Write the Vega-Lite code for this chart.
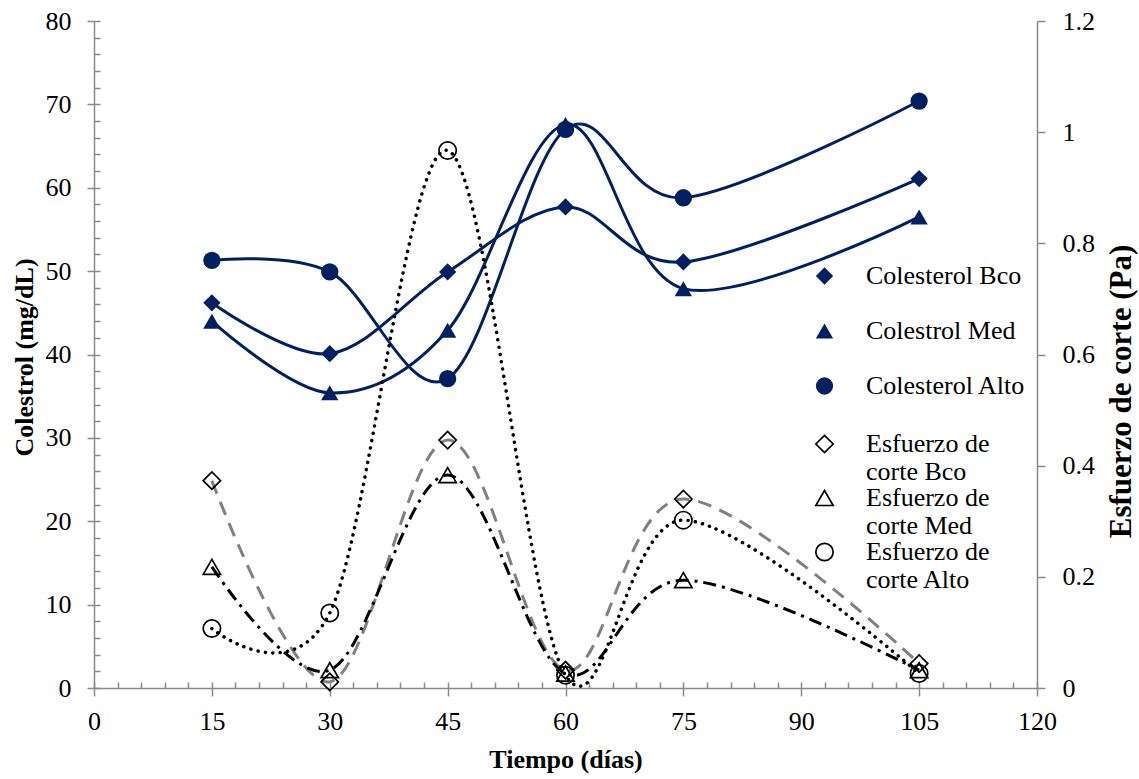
{
  "$schema": "https://vega.github.io/schema/vega-lite/v6.json",
  "width": 943,
  "height": 667,
  "autosize": "none",
  "padding": {"left": 94, "top": 21, "right": 102, "bottom": 91},
  "config": {
    "view": {"stroke": null},
    "font": "Liberation Serif",
    "axis": {
      "grid": false,
      "domainColor": "#8a8a8a",
      "tickColor": "#8a8a8a",
      "domainWidth": 1.5,
      "tickWidth": 1.5,
      "labelFont": "Liberation Serif",
      "labelFontSize": 26,
      "labelColor": "#000000",
      "labelFlush": false,
      "labelOverlap": false,
      "titleFont": "Liberation Serif",
      "titleFontSize": 26,
      "titleFontWeight": "bold",
      "titleColor": "#000000"
    },
    "legend": {
      "labelFont": "Liberation Serif",
      "labelFontSize": 26,
      "labelColor": "#000000",
      "labelLimit": 400,
      "labelBaseline": "middle",
      "padding": 0
    }
  },
  "datasets": {
    "colesterol": [
      {"tiempo": 15, "serie": "Colesterol Bco", "valor": 46.2},
      {"tiempo": 30, "serie": "Colesterol Bco", "valor": 40.1},
      {"tiempo": 45, "serie": "Colesterol Bco", "valor": 49.9},
      {"tiempo": 60, "serie": "Colesterol Bco", "valor": 57.7},
      {"tiempo": 75, "serie": "Colesterol Bco", "valor": 51.1},
      {"tiempo": 105, "serie": "Colesterol Bco", "valor": 61.1},
      {"tiempo": 15, "serie": "Colestrol Med", "valor": 44.0},
      {"tiempo": 30, "serie": "Colestrol Med", "valor": 35.4},
      {"tiempo": 45, "serie": "Colestrol Med", "valor": 42.9},
      {"tiempo": 60, "serie": "Colestrol Med", "valor": 67.6},
      {"tiempo": 75, "serie": "Colestrol Med", "valor": 47.9},
      {"tiempo": 105, "serie": "Colestrol Med", "valor": 56.5},
      {"tiempo": 15, "serie": "Colesterol Alto", "valor": 51.3},
      {"tiempo": 30, "serie": "Colesterol Alto", "valor": 49.9},
      {"tiempo": 45, "serie": "Colesterol Alto", "valor": 37.1},
      {"tiempo": 60, "serie": "Colesterol Alto", "valor": 67.0},
      {"tiempo": 75, "serie": "Colesterol Alto", "valor": 58.8},
      {"tiempo": 105, "serie": "Colesterol Alto", "valor": 70.4}
    ],
    "esfuerzo": [
      {"tiempo": 15, "serie": "Esfuerzo de corte Bco", "valor": 0.373},
      {"tiempo": 30, "serie": "Esfuerzo de corte Bco", "valor": 0.011},
      {"tiempo": 45, "serie": "Esfuerzo de corte Bco", "valor": 0.446},
      {"tiempo": 60, "serie": "Esfuerzo de corte Bco", "valor": 0.032},
      {"tiempo": 75, "serie": "Esfuerzo de corte Bco", "valor": 0.340},
      {"tiempo": 105, "serie": "Esfuerzo de corte Bco", "valor": 0.044},
      {"tiempo": 15, "serie": "Esfuerzo de corte Med", "valor": 0.218},
      {"tiempo": 30, "serie": "Esfuerzo de corte Med", "valor": 0.032},
      {"tiempo": 45, "serie": "Esfuerzo de corte Med", "valor": 0.383},
      {"tiempo": 60, "serie": "Esfuerzo de corte Med", "valor": 0.026},
      {"tiempo": 75, "serie": "Esfuerzo de corte Med", "valor": 0.194},
      {"tiempo": 105, "serie": "Esfuerzo de corte Med", "valor": 0.032},
      {"tiempo": 15, "serie": "Esfuerzo de corte Alto", "valor": 0.107},
      {"tiempo": 30, "serie": "Esfuerzo de corte Alto", "valor": 0.135},
      {"tiempo": 45, "serie": "Esfuerzo de corte Alto", "valor": 0.967},
      {"tiempo": 60, "serie": "Esfuerzo de corte Alto", "valor": 0.023},
      {"tiempo": 75, "serie": "Esfuerzo de corte Alto", "valor": 0.302},
      {"tiempo": 105, "serie": "Esfuerzo de corte Alto", "valor": 0.026}
    ]
  },
  "layer": [
    {
      "data": {"name": "colesterol"},
      "transform": [{"filter": "datum.serie == 'Colesterol Bco'"}],
      "mark": {"type": "line", "interpolate": "cardinal", "strokeWidth": 3, "color": "#002060"},
      "encoding": {
        "x": {
          "field": "tiempo", "type": "quantitative",
          "scale": {"domain": [0, 120]},
          "axis": {
            "orient": "bottom",
            "values": [0, 15, 30, 45, 60, 75, 90, 105, 120],
            "tickSize": 8,
            "labelPadding": 12,
            "title": "Tiempo (días)",
            "titleY": 71,
            "titleBaseline": "middle"
          }
        },
        "y": {
          "field": "valor", "type": "quantitative",
          "scale": {"domain": [0, 80]},
          "axis": {
            "orient": "left",
            "values": [0, 10, 20, 30, 40, 50, 60, 70, 80],
            "tickSize": 7,
            "labelPadding": 16,
            "title": "Colestrol (mg/dL)",
            "titleX": -70,
            "titleY": 336,
            "titleAngle": 270,
            "titleAlign": "center",
            "titleBaseline": "middle"
          }
        }
      }
    },
    {
      "data": {"name": "colesterol"},
      "transform": [{"filter": "datum.serie == 'Colestrol Med'"}],
      "mark": {"type": "line", "interpolate": "cardinal", "strokeWidth": 3, "color": "#002060"},
      "encoding": {
        "x": {
          "field": "tiempo", "type": "quantitative",
          "scale": {"domain": [0, 120]},
          "axis": {
            "orient": "bottom",
            "values": [0, 3, 6, 9, 12, 15, 18, 21, 24, 27, 30, 33, 36, 39, 42, 45, 48, 51, 54, 57, 60, 63, 66, 69, 72, 75, 78, 81, 84, 87, 90, 93, 96, 99, 102, 105, 108, 111, 114, 117, 120],
            "tickSize": -6,
            "labels": false,
            "domain": false,
            "title": null
          }
        },
        "y": {
          "field": "valor", "type": "quantitative",
          "scale": {"domain": [0, 80]},
          "axis": {
            "orient": "left",
            "values": [0, 2, 4, 6, 8, 10, 12, 14, 16, 18, 20, 22, 24, 26, 28, 30, 32, 34, 36, 38, 40, 42, 44, 46, 48, 50, 52, 54, 56, 58, 60, 62, 64, 66, 68, 70, 72, 74, 76, 78, 80],
            "tickSize": -6,
            "labels": false,
            "domain": false,
            "title": null
          }
        }
      }
    },
    {
      "data": {"name": "colesterol"},
      "transform": [{"filter": "datum.serie == 'Colesterol Alto'"}],
      "mark": {"type": "line", "interpolate": "cardinal", "strokeWidth": 3, "color": "#002060"},
      "encoding": {
        "x": {"field": "tiempo", "type": "quantitative", "scale": {"domain": [0, 120]}, "axis": null},
        "y": {"field": "valor", "type": "quantitative", "scale": {"domain": [0, 80]}, "axis": null}
      }
    },
    {
      "data": {"name": "colesterol"},
      "mark": {"type": "point", "filled": true, "color": "#002060", "size": 300, "opacity": 1},
      "encoding": {
        "x": {"field": "tiempo", "type": "quantitative", "scale": {"domain": [0, 120]}, "axis": null},
        "y": {"field": "valor", "type": "quantitative", "scale": {"domain": [0, 80]}, "axis": null},
        "shape": {
          "field": "serie", "type": "nominal",
          "scale": {
            "domain": ["Colesterol Bco", "Colestrol Med", "Colesterol Alto"],
            "range": ["diamond", "triangle-up", "circle"]
          },
          "legend": {
            "orient": "none",
            "legendX": 717.5,
            "legendY": 242,
            "title": null,
            "symbolSize": 300,
            "rowPadding": 29,
            "labelOffset": 28.5
          }
        }
      }
    },
    {
      "data": {"name": "esfuerzo"},
      "transform": [{"filter": "datum.serie == 'Esfuerzo de corte Bco'"}],
      "mark": {"type": "line", "interpolate": "cardinal", "color": "#808080", "strokeWidth": 3, "strokeDash": [14, 9]},
      "encoding": {
        "x": {"field": "tiempo", "type": "quantitative", "scale": {"domain": [0, 120]}, "axis": null},
        "y": {
          "field": "valor", "type": "quantitative",
          "scale": {"domain": [0, 1.2]},
          "axis": {
            "orient": "right",
            "values": [0, 0.2, 0.4, 0.6, 0.8, 1, 1.2],
            "format": "~g",
            "tickSize": 8,
            "labelPadding": 17,
            "title": "Esfuerzo de corte (Pa)",
            "titleFontSize": 31,
            "titleX": 84,
            "titleY": 370,
            "titleAngle": 270,
            "titleAlign": "center",
            "titleBaseline": "middle"
          }
        }
      }
    },
    {
      "data": {"name": "esfuerzo"},
      "transform": [{"filter": "datum.serie == 'Esfuerzo de corte Med'"}],
      "mark": {"type": "line", "interpolate": "cardinal", "color": "#000000", "strokeWidth": 3, "strokeDash": [13, 6, 3, 6]},
      "encoding": {
        "x": {"field": "tiempo", "type": "quantitative", "scale": {"domain": [0, 120]}, "axis": null},
        "y": {"field": "valor", "type": "quantitative", "scale": {"domain": [0, 1.2]}, "axis": null}
      }
    },
    {
      "data": {"name": "esfuerzo"},
      "transform": [{"filter": "datum.serie == 'Esfuerzo de corte Alto'"}],
      "mark": {"type": "line", "interpolate": "cardinal", "color": "#000000", "strokeWidth": 3.5, "strokeDash": [0.1, 7.3], "strokeCap": "round"},
      "encoding": {
        "x": {"field": "tiempo", "type": "quantitative", "scale": {"domain": [0, 120]}, "axis": null},
        "y": {"field": "valor", "type": "quantitative", "scale": {"domain": [0, 1.2]}, "axis": null}
      }
    },
    {
      "data": {"name": "esfuerzo"},
      "mark": {"type": "point", "filled": false, "color": "#000000", "strokeWidth": 1.7, "size": 300, "opacity": 1},
      "encoding": {
        "x": {"field": "tiempo", "type": "quantitative", "scale": {"domain": [0, 120]}, "axis": null},
        "y": {"field": "valor", "type": "quantitative", "scale": {"domain": [0, 1.2]}, "axis": null},
        "shape": {
          "field": "serie", "type": "nominal",
          "scale": {
            "domain": ["Esfuerzo de corte Bco", "Esfuerzo de corte Med", "Esfuerzo de corte Alto"],
            "range": ["diamond", "triangle-up", "circle"]
          },
          "legend": {
            "orient": "none",
            "legendX": 717.5,
            "legendY": 410,
            "title": null,
            "symbolSize": 300,
            "symbolStrokeWidth": 1.7,
            "symbolStrokeColor": "#000000",
            "symbolFillColor": "transparent",
            "rowPadding": 0,
            "labelOffset": 28.5,
            "labelExpr": "['Esfuerzo de', replace(datum.label, 'Esfuerzo de ', '')]"
          }
        }
      }
    }
  ],
  "resolve": {
    "scale": {"y": "independent", "shape": "independent"},
    "axis": {"x": "independent", "y": "independent"}
  }
}
